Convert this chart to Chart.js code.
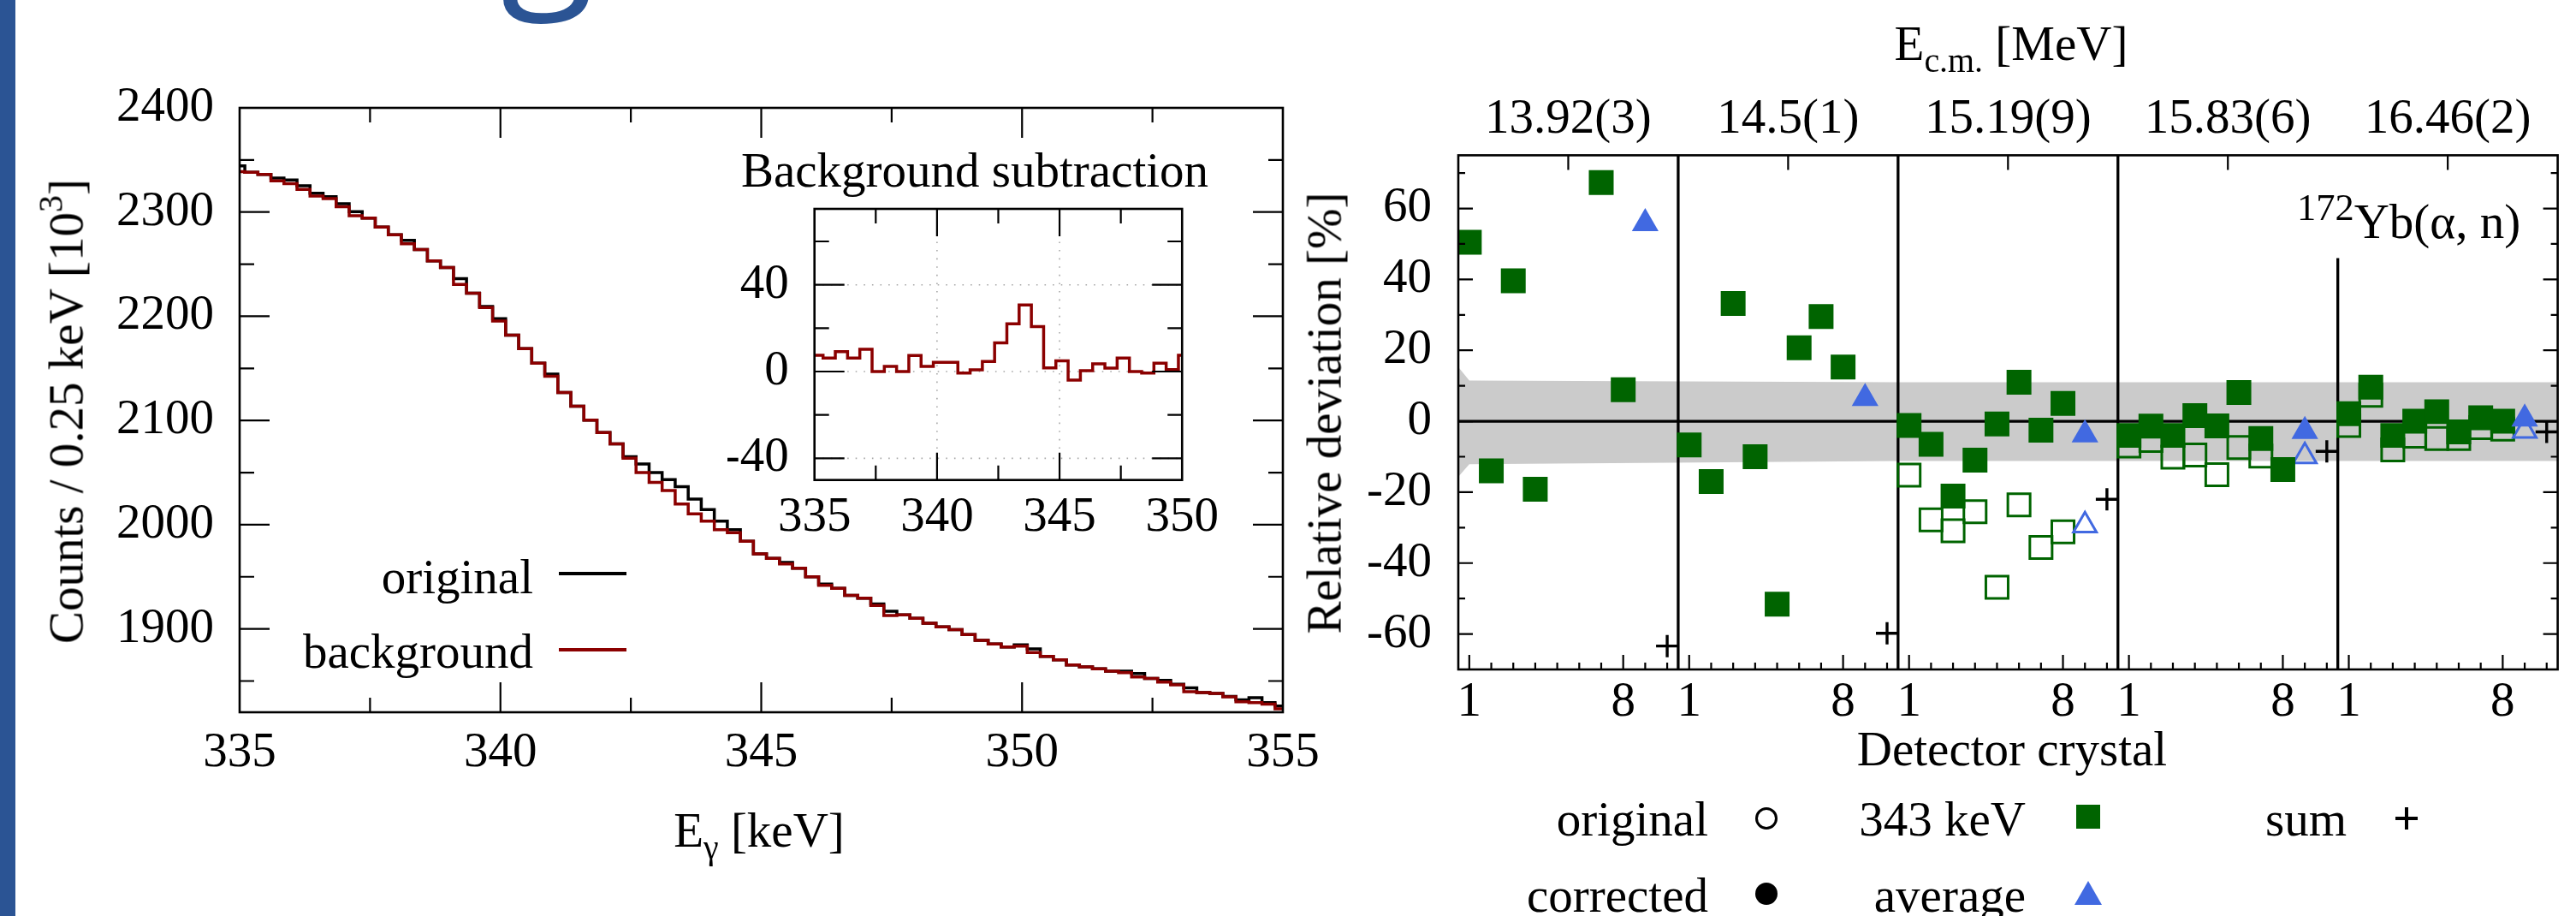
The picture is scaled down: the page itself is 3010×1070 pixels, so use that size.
<!DOCTYPE html>
<html lang="en">
<head>
<meta charset="UTF-8">
<title>172Yb(a,n) background subtraction and detector deviations</title>
<script src="https://cdn.jsdelivr.net/npm/chart.js"></script>
<style>
  html, body { margin: 0; padding: 0; background: #fff; }
  body { position: relative; width: 3010px; height: 1070px; overflow: hidden;
         font-family: 'Liberation Serif', 'Times New Roman', serif; color: #000; }
  canvas { position: absolute; }
  .t { position: absolute; font-size: 57px; line-height: 57px; white-space: nowrap; }
  .t sub, .t sup { position: relative; font-size: 0.7em; line-height: 0; vertical-align: baseline; }
  .t sub { top: 0.35em; }
  .t sup { top: -0.6em; }
  .r { text-align: right; }
  .c { text-align: center; }
  .rot { transform: rotate(-90deg); transform-origin: 50% 50%; text-align: center; }
  .mk { position: absolute; box-sizing: border-box; }
  #bar { position: absolute; left: 0; top: 0; width: 18px; height: 1070px; background: #2b5494; }
  #g { position: absolute; left: 585px; top: 0; width: 150px; height: 32px; overflow: hidden; }
  #g span { position: absolute; left: 0; top: -197px; font-family: 'Open Sans', sans-serif;
            font-size: 200px; line-height: 200px; color: #2b5494; }
</style>
</head>
<body>
<div id="bar"></div>
<div id="g"><span>g</span></div>

<canvas id="spec" width="1569" height="940" style="left:0;top:0"></canvas>
<canvas id="inset" width="590" height="476" style="left:850px;top:174px"></canvas>
<canvas id="dev" width="1430" height="800" style="left:1580px;top:80px"></canvas>

<!-- left panel texts -->
<div class="t" style="left:866px;top:170px">Background subtraction</div>
<div class="t r" style="left:223px;top:645px;width:400px">original</div>
<div class="t r" style="left:223px;top:732px;width:400px">background</div>
<div class="mk" style="left:653px;top:668px;width:79px;height:3.5px;background:#000"></div>
<div class="mk" style="left:653px;top:757px;width:79px;height:3.5px;background:#8b0000"></div>
<div class="t c" style="left:587px;top:941px;width:600px">E<sub>γ</sub> [keV]</div>
<div class="t rot" style="left:-273px;top:452px;width:700px">Counts / 0.25 keV [10<sup>3</sup>]</div>

<!-- right panel texts -->
<div class="t c" style="left:2050px;top:22px;width:600px">E<sub>c.m.</sub> [MeV]</div>
<div class="t c" style="left:2051px;top:846px;width:600px">Detector crystal</div>
<div class="t rot" style="left:1197px;top:454px;width:700px">Relative deviation [%]</div>
<div class="t" style="left:2684px;top:230px"><sup style="font-size:0.78em;top:-0.47em">172</sup>Yb(α, n)</div>

<!-- right legend -->
<div class="t r" style="left:1596px;top:928px;width:400px">original</div>
<div class="t r" style="left:1596px;top:1017px;width:400px">corrected</div>
<div class="t r" style="left:1967px;top:928px;width:400px">343 keV</div>
<div class="t r" style="left:1967px;top:1017px;width:400px">average</div>
<div class="t r" style="left:2342px;top:928px;width:400px">sum</div>
<div class="mk" style="left:2051px;top:943px;width:26px;height:26px;border:3.5px solid #000;border-radius:50%"></div>
<div class="mk" style="left:2051px;top:1031px;width:26px;height:26px;background:#000;border-radius:50%"></div>
<div class="mk" style="left:2426px;top:940px;width:28px;height:28px;background:#006400"></div>
<div class="mk" style="left:2424px;top:1029px;width:0;height:0;border-left:16px solid transparent;border-right:16px solid transparent;border-bottom:28px solid #4169e1"></div>
<div class="mk" style="left:2799px;top:954px;width:26px;height:3.5px;background:#000"></div>
<div class="mk" style="left:2810.2px;top:943px;width:3.5px;height:26px;background:#000"></div>

<script>
// ---------- spectrum (left), counts per 0.25 keV bin in 10^3 ----------
const specStart = 335, specEnd = 355;
const specFirstEdge = 335.1, specBin = 0.25;
const background = [
  2338.7, 2338.1, 2336.2, 2329.9, 2327.2, 2321.7, 2315.4, 2312.9, 2305.2, 2296.4,
  2294.2, 2285.5, 2278.3, 2269.5, 2264.1, 2253.1, 2246.8, 2230.6, 2222.1, 2208.4,
  2195.5, 2181.8, 2168.9, 2154.9, 2142.5, 2126.9, 2113.7, 2100.3, 2088.5, 2077.5,
  2063.8, 2050.1, 2040.5, 2032.8, 2019.9, 2010.3, 2003.5, 1995.2, 1992.4, 1984.2,
  1971.9, 1967.7, 1962.3, 1958.2, 1950.0, 1941.7, 1939.0, 1932.1, 1929.4, 1922.5,
  1912.9, 1913.5, 1910.1, 1905.5, 1901.9, 1899.2, 1894.5, 1889.0, 1885.5, 1882.7,
  1883.5, 1877.2, 1873.7, 1870.4, 1865.4, 1863.5, 1861.6, 1859.4, 1858.0, 1853.9,
  1852.5, 1849.0, 1846.2, 1839.7, 1838.8, 1838.0, 1834.7, 1830.0, 1829.2, 1827.8,
  1823.2
];
const original = [
  2344.4, 2338.1, 2336.2, 2332.6, 2330.7, 2325.2, 2318.1, 2314.8, 2308.0, 2300.3,
  2294.2, 2285.5, 2278.3, 2272.8, 2264.1, 2253.1, 2246.8, 2236.1, 2222.1, 2209.5,
  2197.7, 2181.8, 2168.9, 2154.9, 2144.5, 2126.9, 2113.7, 2100.3, 2088.5, 2077.5,
  2065.2, 2058.3, 2050.1, 2043.2, 2036.4, 2024.5, 2014.4, 2003.5, 1995.2, 1984.2,
  1971.9, 1967.7, 1963.7, 1958.2, 1950.0, 1943.0, 1939.0, 1932.1, 1929.4, 1924.0,
  1917.0, 1913.5, 1910.1, 1905.5, 1901.9, 1899.2, 1894.5, 1889.0, 1885.5, 1882.7,
  1884.6, 1880.8, 1873.7, 1870.4, 1865.4, 1863.5, 1861.6, 1859.4, 1859.4, 1857.2,
  1852.5, 1850.6, 1847.0, 1843.5, 1838.8, 1838.0, 1835.3, 1832.0, 1833.9, 1829.2,
  1825.9
];
const specXLabels = [335, 340, 345, 350, 355];
const specYLabels = [1900, 2000, 2100, 2200, 2300, 2400];

// ---------- inset: original - background, 0.5 keV bins ----------
const insetStart = 335, insetEnd = 350;
const insetFirstEdge = 335.35, insetBin = 0.5;
const netCounts = [
  7.5, 6.2, 9.2, 6.2, 10.3, 0.0, 2.4, 0.0, 7.4, 2.4,
  4.3, 4.3, -0.7, 0.8, 4.6, 13.2, 22.0, 30.7, 20.7, 1.7,
  4.9, -3.9, 0.4, 3.6, 1.6, 6.2, 0.0, -0.7, 3.9, 0.9,
  7.5
];
const insetXLabels = [335, 340, 345, 350];
const insetYLabels = [-40, 0, 40];

// ---------- relative deviations (right), one row per energy, crystals 1..8 ----------
const energies = ['13.92(3)', '14.5(1)', '15.19(9)', '15.83(6)', '16.46(2)'];
const corrected343 = [
  [50.5, -14.0, 39.6, -19.2, null, null, 67.3, 8.9],
  [-6.7, -17.0, 33.2, -10.0, -51.6, 20.7, 29.5, 15.3],
  [-1.2, -6.5, -21.1, -11.0, -0.8, 11.0, -2.5, 5.0],
  [-4.0, -1.4, -4.0, 1.6, -1.3, 8.1, -4.9, -13.6],
  [2.1, 9.6, -4.0, 0.0, 2.7, -3.0, 1.0, 0.0]
];
const original343 = [
  [null, null, null, null, null, null, null, null],
  [null, null, null, null, null, null, null, null],
  [-15.2, -27.8, -30.9, -25.5, -46.8, -23.6, -35.6, -31.2],
  [-7.0, -5.4, -10.1, -9.5, -15.1, -7.4, -9.8, null],
  [-1.2, 7.3, -8.1, -4.2, -4.9, -4.9, -1.8, -2.2]
];
const correctedAvg = [55.8, 6.5, -3.8, -2.8, 0.7];
const originalAvg = [null, null, -29.4, -9.9, -2.7];
const sumDev = [-63.4, -59.8, -22.0, -8.5, -3.0];
const crystalLabels = [1, 8];
const devYLabels = [-60, -40, -20, 0, 20, 40, 60];
// uncertainty band
const bandX = [0.5, 1.0, 20.5, 50.5];
const bandHigh = [15.3, 11.5, 11.0, 11.0];
const bandLow = [-15.7, -12.1, -11.2, -11.2];
const sepStop = 46; // last separator stops under the reaction label

Chart.defaults.font.family = "'Liberation Serif', 'Times New Roman', serif";
Chart.defaults.color = '#000';
const tickFont = { size: 57, lineHeight: 1 };

function range(from, to, step) {
  const out = [];
  for (let v = from; v <= to + 1e-9; v += step) out.push(+v.toFixed(4));
  return out;
}

function stepPoints(start, firstEdge, width, end, values) {
  const pts = values.map((v, i) => ({ x: i === 0 ? start : firstEdge + (i - 1) * width, y: v }));
  pts.push({ x: end, y: values[values.length - 1] });
  return pts;
}

function makeFrame(cfg) {
  return {
    id: 'frame',
    beforeDatasetsDraw(chart) {
      if (!cfg.grid) return;
      const { ctx, chartArea: a, scales } = chart;
      ctx.save();
      ctx.strokeStyle = '#a8a8a8';
      ctx.lineWidth = 1.6;
      ctx.setLineDash([1.6, 8]);
      ctx.beginPath();
      cfg.grid.x.forEach(v => {
        const p = scales.x.getPixelForValue(v);
        ctx.moveTo(p, a.top); ctx.lineTo(p, a.bottom);
      });
      cfg.grid.y.forEach(v => {
        const p = scales.y.getPixelForValue(v);
        ctx.moveTo(a.left, p); ctx.lineTo(a.right, p);
      });
      ctx.stroke();
      ctx.restore();
    },
    afterDatasetDraw(chart, args) {
      if (cfg.refLines && args.index === cfg.refLines.after) cfg.refLines.draw(chart);
    },
    afterDatasetsDraw(chart) {
      const { ctx, chartArea: a, scales } = chart;
      ctx.save();
      ctx.strokeStyle = '#000';
      ctx.lineWidth = cfg.tickWidth;
      ctx.beginPath();
      cfg.ticks.forEach(t => {
        const sc = scales[t.axis];
        t.values.forEach(v => {
          const p = sc.getPixelForValue(v);
          if (sc.isHorizontal()) {
            if (t.sides.includes('bottom')) { ctx.moveTo(p, a.bottom); ctx.lineTo(p, a.bottom - t.len); }
            if (t.sides.includes('top')) { ctx.moveTo(p, a.top); ctx.lineTo(p, a.top + t.len); }
          } else {
            if (t.sides.includes('left')) { ctx.moveTo(a.left, p); ctx.lineTo(a.left + t.len, p); }
            if (t.sides.includes('right')) { ctx.moveTo(a.right, p); ctx.lineTo(a.right - t.len, p); }
          }
        });
      });
      ctx.stroke();
      ctx.lineWidth = cfg.boxWidth;
      ctx.strokeRect(a.left, a.top, a.right - a.left, a.bottom - a.top);
      ctx.restore();
    }
  };
}

function axis(opts) {
  const ticksList = opts.ticks;
  return {
    type: 'linear',
    position: opts.position,
    min: opts.min,
    max: opts.max,
    afterBuildTicks: s => { s.ticks = ticksList.map(v => ({ value: v })); },
    afterFit: s => { if (opts.width !== undefined) s.width = opts.width; if (opts.height !== undefined) s.height = opts.height; },
    grid: { display: false, drawTicks: false },
    border: { display: false },
    ticks: {
      font: tickFont, color: '#000', padding: opts.padding,
      autoSkip: false, maxRotation: 0, minRotation: 0,
      callback: opts.label || (v => String(v))
    }
  };
}

const base = {
  responsive: false, animation: false, events: [], devicePixelRatio: 1,
  plugins: { legend: { display: false }, tooltip: { enabled: false } }
};

// ---------- left spectrum ----------
new Chart(document.getElementById('spec'), {
  type: 'line',
  data: {
    datasets: [
      { label: 'background', data: stepPoints(specStart, specFirstEdge, specBin, specEnd, background),
        stepped: 'before', borderColor: '#8b0000', borderWidth: 3.5, pointRadius: 0, fill: false, order: 1 },
      { label: 'original', data: stepPoints(specStart, specFirstEdge, specBin, specEnd, original),
        stepped: 'before', borderColor: '#000', borderWidth: 3.5, pointRadius: 0, fill: false, order: 2 }
    ]
  },
  options: Object.assign({}, base, {
    layout: { padding: { top: 126, right: 70, bottom: 0, left: 0 } },
    scales: {
      x: axis({ position: 'bottom', min: 335, max: 355, ticks: specXLabels, height: 108, padding: 19.5 }),
      y: axis({ position: 'left', min: 1820, max: 2400, ticks: specYLabels, width: 280, padding: 30 })
    }
  }),
  plugins: [makeFrame({
    tickWidth: 2.2, boxWidth: 2.6,
    ticks: [
      { axis: 'x', values: range(340, 350, 5), len: 35, sides: ['bottom', 'top'] },
      { axis: 'x', values: range(337.5, 352.5, 5), len: 17, sides: ['bottom', 'top'] },
      { axis: 'y', values: range(1900, 2300, 100), len: 35, sides: ['left', 'right'] },
      { axis: 'y', values: range(1850, 2350, 100), len: 17, sides: ['left', 'right'] }
    ]
  })]
});

// ---------- inset ----------
new Chart(document.getElementById('inset'), {
  type: 'line',
  data: {
    datasets: [
      { label: 'net', data: stepPoints(insetStart, insetFirstEdge, insetBin, insetEnd, netCounts),
        stepped: 'before', borderColor: '#8b0000', borderWidth: 3.5, pointRadius: 0, fill: false }
    ]
  },
  options: Object.assign({}, base, {
    layout: { padding: { top: 70, right: 58.6, bottom: 0, left: 0 } },
    scales: {
      x: axis({ position: 'bottom', min: 335, max: 350, ticks: insetXLabels, height: 89.3, padding: 16 }),
      y: axis({ position: 'left', min: -50, max: 75, ticks: insetYLabels, width: 101.7, padding: 30 })
    }
  }),
  plugins: [makeFrame({
    tickWidth: 2.2, boxWidth: 2.6,
    grid: { x: [340, 345], y: insetYLabels },
    ticks: [
      { axis: 'x', values: [340, 345], len: 32, sides: ['bottom', 'top'] },
      { axis: 'x', values: [337.5, 342.5, 347.5], len: 17, sides: ['bottom', 'top'] },
      { axis: 'y', values: insetYLabels, len: 35, sides: ['left', 'right'] },
      { axis: 'y', values: [-20, 20, 60], len: 17, sides: ['left', 'right'] }
    ]
  })]
});

// ---------- right: relative deviation ----------
const crystalPoints = rows => rows.flatMap((row, g) => row.map((v, c) => ({ x: 10 * g + c + 1, y: v })))
  .filter(p => p.y !== null);
const slotPoints = (vals, slot) => vals.map((v, g) => ({ x: 10 * g + slot, y: v })).filter(p => p.y !== null);

const devXTicks = energies.flatMap((e, g) => crystalLabels.map(c => 10 * g + c));
const groupCenters = energies.map((e, g) => 10 * g + 5.5);
const allCrystals = energies.flatMap((e, g) => range(1, 10, 1).map(c => 10 * g + c));

new Chart(document.getElementById('dev'), {
  type: 'scatter',
  data: {
    datasets: [
      { type: 'line', label: 'band high', data: bandX.map((x, i) => ({ x, y: bandHigh[i] })),
        borderWidth: 0, pointRadius: 0, fill: '+1', backgroundColor: '#cbcbcb', order: 10 },
      { type: 'line', label: 'band low', data: bandX.map((x, i) => ({ x, y: bandLow[i] })),
        borderWidth: 0, pointRadius: 0, fill: false, order: 9 },
      { label: 'original 343 keV', data: crystalPoints(original343), pointStyle: 'rect', pointRadius: 18.4,
        backgroundColor: 'rgba(0,0,0,0)', borderColor: '#006400', borderWidth: 3, order: 5 },
      { label: 'original average', data: slotPoints(originalAvg, 9), pointStyle: 'triangle', pointRadius: 15.5,
        backgroundColor: 'rgba(0,0,0,0)', borderColor: '#4169e1', borderWidth: 3, order: 4 },
      { label: 'corrected 343 keV', data: crystalPoints(corrected343), pointStyle: 'rect', pointRadius: 20.5,
        backgroundColor: '#006400', borderWidth: 0, order: 3 },
      { label: 'corrected average', data: slotPoints(correctedAvg, 9), pointStyle: 'triangle', pointRadius: 18,
        backgroundColor: '#4169e1', borderWidth: 0, order: 2 },
      { label: 'sum', data: slotPoints(sumDev, 10), pointStyle: 'cross', pointRadius: 13,
        borderColor: '#000', borderWidth: 3.4, order: 1 }
    ]
  },
  options: Object.assign({}, base, {
    layout: { padding: { top: 0, right: 10.5, bottom: 0, left: 0 } },
    scales: {
      x: axis({ position: 'bottom', min: 0.5, max: 50.5, ticks: devXTicks, height: 98, padding: 10.5,
                label: v => String((Math.round(v) - 1) % 10 + 1) }),
      x2: axis({ position: 'top', min: 0.5, max: 50.5, ticks: groupCenters, height: 101.4, padding: 12.9,
                 label: (v, i) => energies[i] }),
      y: axis({ position: 'left', min: -70, max: 75, ticks: devYLabels, width: 124, padding: 31 })
    }
  }),
  plugins: [makeFrame({
    tickWidth: 2.2, boxWidth: 2.6,
    ticks: [
      { axis: 'y', values: range(-60, 60, 20), len: 17, sides: ['left', 'right'] },
      { axis: 'y', values: range(-50, 70, 20), len: 8, sides: ['left', 'right'] },
      { axis: 'x', values: devXTicks, len: 17, sides: ['bottom'] },
      { axis: 'x', values: allCrystals.filter(v => !devXTicks.includes(v)), len: 8, sides: ['bottom'] },
      { axis: 'x', values: groupCenters, len: 17, sides: ['top'] }
    ],
    refLines: {
      after: 1,
      draw(chart) {
        const { ctx, chartArea: a, scales: { x, y } } = chart;
        ctx.save();
        ctx.strokeStyle = '#000';
        ctx.lineWidth = 3.3;
        ctx.beginPath();
        const y0 = y.getPixelForValue(0);
        ctx.moveTo(a.left, y0); ctx.lineTo(a.right, y0);
        energies.slice(1).forEach((e, i) => {
          const px = x.getPixelForValue(10 * (i + 1) + 0.5);
          const top = i === energies.length - 2 ? y.getPixelForValue(sepStop) : a.top;
          ctx.moveTo(px, a.bottom); ctx.lineTo(px, top);
        });
        ctx.stroke();
        ctx.restore();
      }
    }
  })]
});
</script>
</body>
</html>
